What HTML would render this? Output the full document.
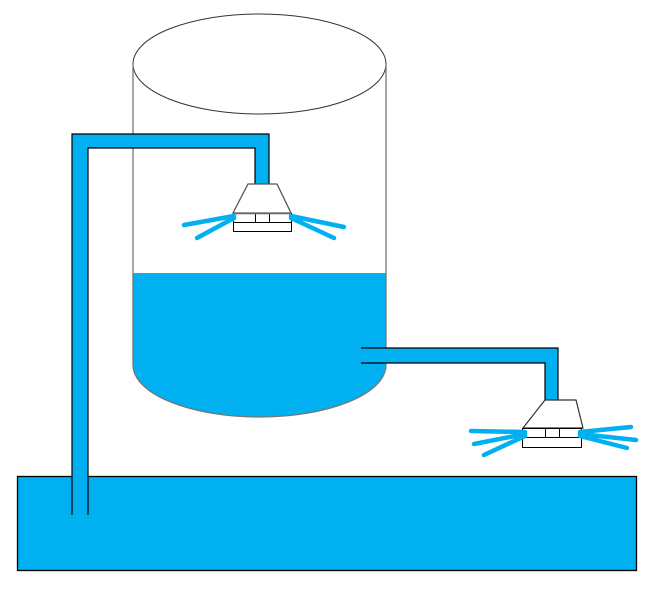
<!DOCTYPE html>
<html><head><style>html,body{margin:0;padding:0;background:#fff;}svg{display:block}</style></head>
<body>
<svg width="666" height="603" viewBox="0 0 666 603" xmlns="http://www.w3.org/2000/svg">
<rect x="17.5" y="476.5" width="619" height="94" fill="#00b0f0" stroke="#000" stroke-width="1.3"/>
<path d="M133 273 H386 V365 A126.5 52 0 0 1 133 365 Z" fill="#00b0f0"/>
<ellipse cx="259.5" cy="64" rx="126.5" ry="50" fill="none" stroke="#333" stroke-width="1"/>
<path d="M133 64 V365 A126.5 52 0 0 0 386 365 V64" fill="none" stroke="#777" stroke-width="1.3"/>
<path d="M72 515 V134 H269 V185 H255 V148 H88 V515 Z" fill="#00b0f0"/>
<path d="M72 515 V134 H269 V185 M255 185 V148 H88 V515" fill="none" stroke="#000" stroke-width="1.2"/>
<path d="M361 348 H558 V400 H545 V363 H361 Z" fill="#00b0f0"/>
<path d="M361 348 H558 V400 M545 400 V363 H361" fill="none" stroke="#000" stroke-width="1.2"/>
<polygon points="248,184 277,184 291,213 233,213" fill="#fff" stroke="#555" stroke-width="1.3"/>
<rect x="233.5" y="213.5" width="58" height="18" fill="#fff" stroke="#000" stroke-width="1"/>
<rect x="255.5" y="213.5" width="14" height="9" fill="#fff" stroke="#000" stroke-width="1"/>
<line x1="233" y1="213.5" x2="291" y2="213.5" stroke="#666" stroke-width="1.5"/>
<line x1="233.5" y1="222.5" x2="291.5" y2="222.5" stroke="#000" stroke-width="1"/>
<g stroke="#00b0f0" stroke-width="4.5" stroke-linecap="round">
<line x1="234" y1="216" x2="184" y2="225"/>
<line x1="234" y1="218" x2="197" y2="238"/>
<line x1="291" y1="216" x2="344" y2="227"/>
<line x1="291" y1="218" x2="334" y2="238"/>
</g>
<polygon points="545,400 576,400 583,428 523,428" fill="#fff" stroke="#333" stroke-width="1.2"/>
<rect x="522.5" y="428.5" width="59" height="19" fill="#fff" stroke="#000" stroke-width="1"/>
<rect x="545.5" y="428.5" width="14" height="9" fill="#fff" stroke="#000" stroke-width="1"/>
<line x1="522.5" y1="437.5" x2="581.5" y2="437.5" stroke="#000" stroke-width="1"/>
<g stroke="#00b0f0" stroke-width="4.5" stroke-linecap="round">
<line x1="525" y1="432" x2="471" y2="431"/>
<line x1="525" y1="434" x2="474" y2="444"/>
<line x1="525" y1="436" x2="484" y2="455"/>
<line x1="580" y1="432" x2="631" y2="427"/>
<line x1="580" y1="434" x2="636" y2="440"/>
<line x1="580" y1="436" x2="627" y2="448"/>
</g>
</svg>
</body></html>
